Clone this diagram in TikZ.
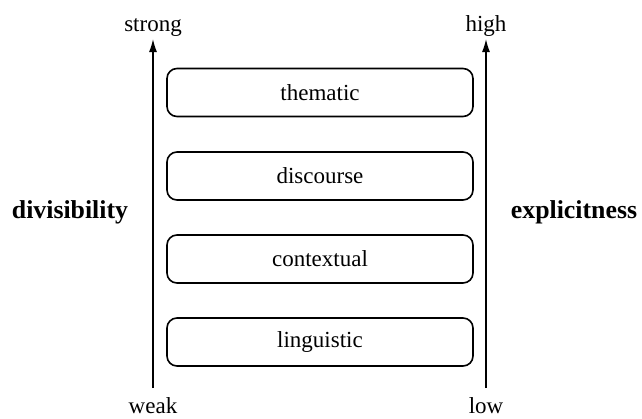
\documentclass[tikz,border=0pt]{standalone}
\usepackage{fontspec}
\setmainfont{Liberation Serif}
\usetikzlibrary{arrows.meta}
\begin{document}
\begin{tikzpicture}[x=1pt,y=-1pt,
  layer/.style={draw, line width=1.6pt, rounded corners=10pt, minimum width=306pt, minimum height=48pt, inner sep=0pt, font=\fontsize{23}{26}\selectfont},
  axis/.style={line width=1.3pt, -{Latex[length=13pt,width=8pt]}},
  lbl/.style={font=\fontsize{23}{26}\selectfont, inner sep=0pt, anchor=base},
  bl/.style={font=\fontsize{25.8}{29}\selectfont\bfseries, inner sep=0pt, anchor=base}]
\useasboundingbox (0,0) rectangle (642,418);
\node[layer] (them) at (320,92.5) {thematic};
\node[layer] (disc) at (320,176) {discourse};
\node[layer] (cont) at (320,259) {contextual};
\node[layer] (ling) at (320,342) {linguistic};
\coordinate (lb) at (153,388);
\coordinate (lt) at (153,39);
\coordinate (rb) at (486,388);
\coordinate (rt) at (486,39);
\draw[axis] (lb) -- (lt);
\draw[axis] (rb) -- (rt);
\node[lbl] (strong) at (153,31) {strong};
\node[lbl] (high) at (486,31) {high};
\node[lbl] (weak) at (153,413) {weak};
\node[lbl] (low) at (486,413) {low};
\node[bl] (div) at (70,218) {divisibility};
\node[bl] (exp) at (574,218) {explicitness};
\end{tikzpicture}
\end{document}
